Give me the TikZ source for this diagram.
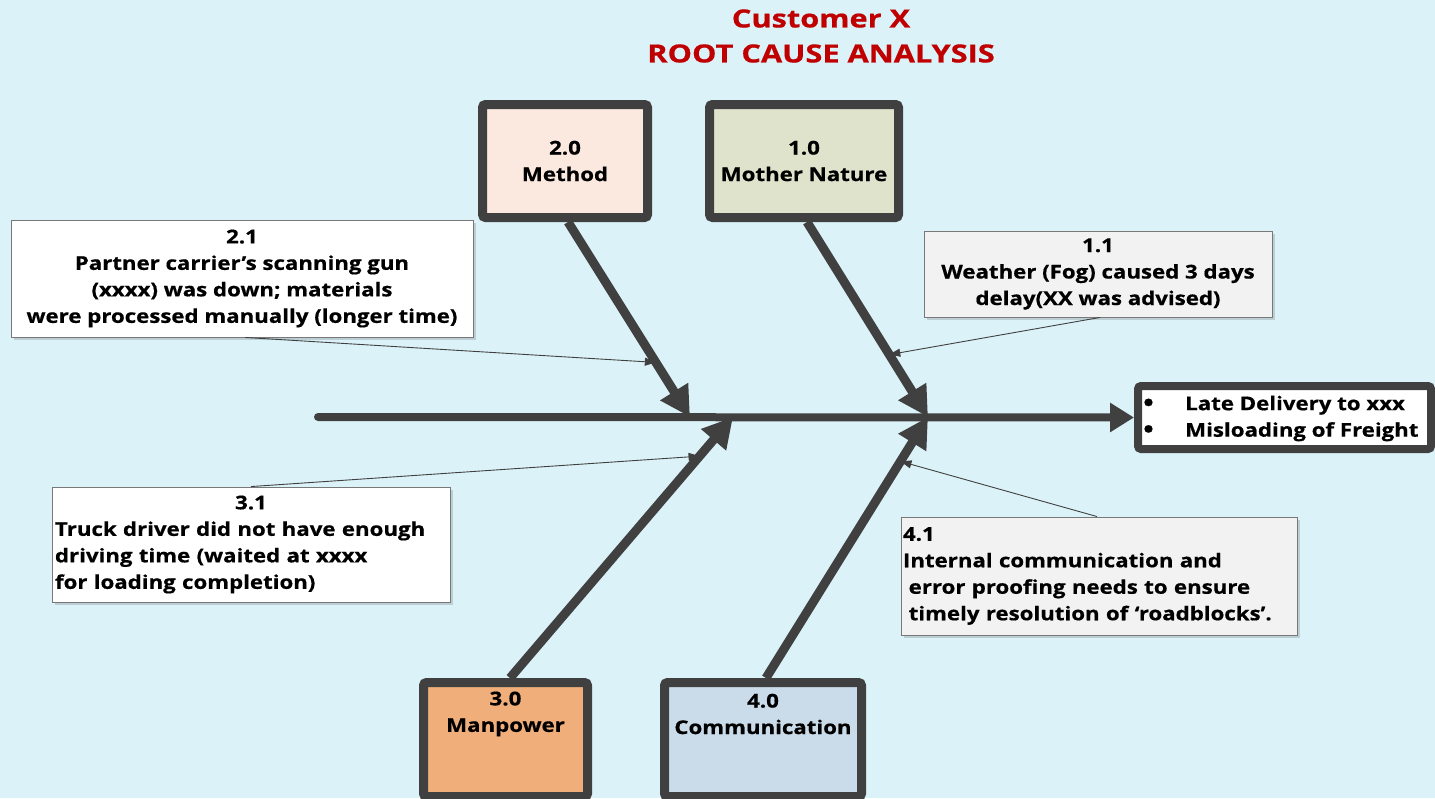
\documentclass[tikz,border=0pt]{standalone}
\usepackage{fontspec}
\setmainfont{Open Sans}[FakeStretch=1.17, BoldFeatures={FakeBold=0.6}]
\newfontfamily\headfont{Open Sans}[FakeStretch=1.23, BoldFeatures={FakeBold=0.6}]
\usetikzlibrary{arrows.meta,shadows,calc}

\definecolor{bg}{RGB}{219,243,248}
\definecolor{edge}{RGB}{64,64,64}
\definecolor{titlered}{RGB}{192,0,0}
\definecolor{cmethod}{RGB}{251,233,223}
\definecolor{cnature}{RGB}{223,227,204}
\definecolor{cpower}{RGB}{240,174,122}
\definecolor{ccomm}{RGB}{202,220,234}
\definecolor{notegray}{RGB}{242,242,242}
\definecolor{noteline}{RGB}{120,120,120}

\newcommand{\bigdot}{\makebox[42pt][l]{\raisebox{-1pt}{\fontsize{24}{24}\selectfont •}}}

\tikzset{
  catbox/.style={draw=edge, line width=9pt, rounded corners=3pt, inner sep=0pt,
    align=center, drop shadow={shadow xshift=2pt, shadow yshift=-2pt, fill=black, opacity=0.12}},
  cattext/.style={inner sep=0pt, align=center},
  note/.style={draw=noteline, line width=0.9pt, inner sep=3pt, align=center,
    drop shadow={shadow xshift=3pt, shadow yshift=-3pt, fill=black, opacity=0.15}},
  spine/.style={draw=edge, line width=8pt, line cap=round, -{Triangle[length=24pt,width=28pt]}},
  bone/.style={draw=edge, line width=9pt, -{Triangle[length=30pt,width=31pt]}},
  lead/.style={draw=edge, line width=0.9pt, -{Triangle[length=11pt,width=8pt]}},
}

\begin{document}
\begin{tikzpicture}[x=1pt, y=-1pt, font=\bfseries\fontsize{19}{26.5}\selectfont]
  % canvas
  \fill[bg] (0,0) rectangle (1435,798);
  \useasboundingbox (0,0) rectangle (1435,798);

  % heading
  \node[align=center, text=titlered, inner sep=0pt, font=\headfont\bfseries\fontsize{25}{35}\selectfont]
    (ttl) at (821,36) {Customer X\\ROOT CAUSE ANALYSIS};

  % cause categories
  \node[catbox, fill=cmethod, minimum width=165pt, minimum height=113pt] (m2) at (565,161) {2.0\\Method};
  \node[catbox, fill=cnature, minimum width=189pt, minimum height=113pt] (m1) at (804,161) {1.0\\Mother Nature};
  \node[catbox, fill=cpower, minimum width=164pt, minimum height=114pt] (m3) at (505.5,739.5) {};
  \node[cattext] (m3t) at (505.5,714) {3.0\\Manpower};
  \node[catbox, fill=ccomm, minimum width=197pt, minimum height=114pt] (m4) at (763,739.5) {};
  \node[cattext] (m4t) at (763,714) {4.0\\Communication};

  % effect
  \node[catbox, fill=white, line width=8pt, minimum width=293pt, minimum height=63pt] (eff) at (1284.5,417.5) {};
  \node[anchor=west, align=left, inner sep=0pt] (efft) at (1143,418.5)
    {\bigdot Late Delivery to xxx\\\bigdot Misloading of Freight};

  % spine and bones
  \coordinate (tail) at (318,417);
  \coordinate (j2) at (690,417);
  \coordinate (j3) at (733,417);
  \coordinate (jr) at (928,417);
  \draw[spine] (tail) -- (eff.west);
  \draw[bone] ([xshift=3pt]m2.south) -- (j2);
  \draw[bone] ([xshift=3pt]m1.south) -- (jr);
  \draw[bone] ([xshift=4.5pt]m3.north) -- (j3);
  \draw[bone] ([xshift=3pt]m4.north) -- (jr);

  % points on the bones where the notes attach
  \coordinate (t2) at ($([xshift=3pt]m2.south)!0.72!(j2)$);
  \coordinate (t1) at ($([xshift=3pt]m1.south)!0.68!(jr)$);
  \coordinate (t3) at ($([xshift=4.5pt]m3.north)!0.85!(j3)$);
  \coordinate (t4) at ($([xshift=3pt]m4.north)!0.83!(jr)$);

  % notes
  \node[note, fill=white, minimum width=462pt, minimum height=117pt] (l2) at (242,278.5)
    {2.1\\Partner carrier’s scanning gun\\(xxxx) was down; materials\\were processed manually (longer time)};
  \node[note, fill=notegray, minimum width=348pt, minimum height=86pt] (l1) at (1098,274)
    {1.1\\Weather (Fog) caused 3 days\\delay(XX was advised)};
  \node[note, fill=white, minimum width=398pt, minimum height=115pt, text width=392pt, align=left] (l3) at (251,544.5)
    {\makebox[392pt]{3.1}\\Truck driver did not have enough\\driving time (waited at xxxx\\for loading completion)};
  \node[note, fill=notegray, minimum width=396pt, minimum height=118pt, inner sep=2pt, text width=392pt, align=left] (l4) at (1099,576)
    {4.1\\Internal communication and\\\hspace*{0.3em}error proofing needs to ensure\\\hspace*{0.3em}timely resolution of ‘roadblocks’.};

  % leaders
  \draw[lead] ([xshift=3pt]l2.south) -- (t2);
  \draw[lead] ([xshift=2pt]l1.south) -- (t1);
  \draw[lead] (l3.north) -- (t3);
  \draw[lead] ([xshift=-2pt]l4.north) -- (t4);
\end{tikzpicture}
\end{document}
